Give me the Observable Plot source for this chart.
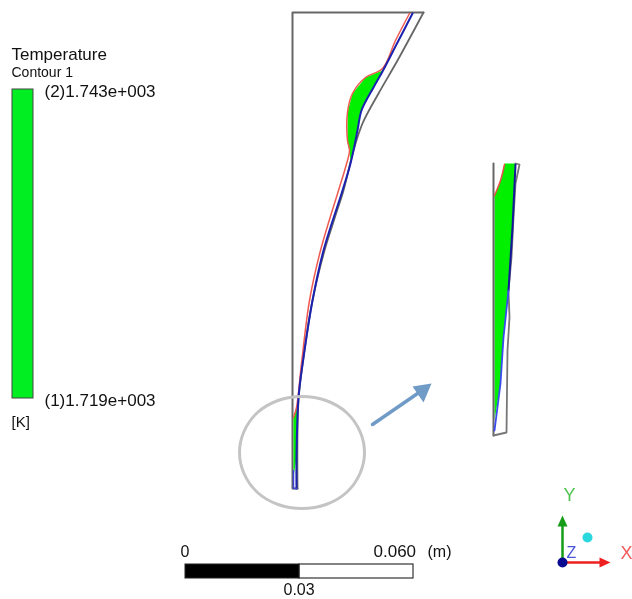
<!DOCTYPE html>
<html>
<head>
<meta charset="utf-8">
<script src="https://cdn.jsdelivr.net/npm/d3@7"></script>
<script src="https://cdn.jsdelivr.net/npm/@observablehq/plot@0.6"></script>
<style>
html,body{margin:0;padding:0;background:#fff;overflow:hidden}
svg{display:block;filter:blur(0.5px)}
</style>
</head>
<body>
<div id="chart"></div>
<script>
const outerFrame = [[297,488],[292,488],[292,12],[423,12]];
const outerCurve = [[423,12],[397,60],[378,93],[362,123],[353,150],[343,190],[335,215],[324,250],[312,300],[303,357],[298,400],[297,488]];
const blueUpper = [[412,13],[397,42],[382,71],[373,87],[361,110],[357,130],[350,163],[342,190],[323,250],[312,300],[303,357],[298,397],[296,457],[296,488]];
const blueCap = [[296,488],[293,488],[293,470]];
const redUpper = [[409,13],[395,40],[382,68],[365,77],[352,93],[347,112],[347,140],[349,150],[345,167],[338,190],[320,250],[309,300],[301,363],[296,407],[293,417]];
const greenBulge = [[382,70],[365,77],[352,93],[347,112],[347,140],[349,152],[350,160],[357,130],[361,110],[373,87]];
const greenStrip = [[298,403],[293,417],[293,477],[296,457],[297,420]];
const outerLeftInset = [[493,163],[493,435]];
const outerInset = [[493,435],[506,432],[507,350],[509,317],[508,290],[511,257],[513,217],[515,183],[519,164],[515,163]];
const blueInsetTop = [[515,164],[512,227],[508,290]];
const blueInsetLow = [[508,290],[503,337],[500,383],[494,430]];
const redInset = [[504,164],[500,180],[494,195]];
const greenInset = [[504,163],[500,180],[494,195],[494,420],[500,383],[503,337],[508,290],[512,227],[515,163]];
const circlePts = [[301.5,396],[325.5,400],[346,412],[359.5,431],[364,452],[359.5,473],[346,492],[325.5,504],[301.5,508],[277.5,504],[257,492],[243.5,473],[239,452],[243.5,431],[257,412],[277.5,400]];
const arrowShaft = [[372,424],[420,391]];
const arrowHead = [[431,383],[412,386],[423,402]];
const legendBar = [{x1:12,x2:33,y1:89,y2:398}];
const scaleBlack = [{x1:185,x2:299,y1:564,y2:578}];
const scaleWhite = [{x1:299,x2:413,y1:564,y2:578}];
const yAxisTriad = [[562,560],[562,524]];
const xAxisTriad = [[562,562],[600,562]];
const yHead = [[562,515],[557,526],[567,526]];
const xHead = [[610,562],[599,557],[599,567]];
const originDot = [[562,562]];
const cyanDot = [[587,537]];
const labels = [
  {x:11,y:54,t:"Temperature",s:17,c:"#111"},
  {x:11,y:72,t:"Contour 1",s:14,c:"#111"},
  {x:44,y:91,t:"(2)1.743e+003",s:17,c:"#111"},
  {x:44,y:400,t:"(1)1.719e+003",s:17,c:"#111"},
  {x:11,y:422,t:"[K]",s:15,c:"#111"},
  {x:180,y:551,t:"0",s:16,c:"#111"},
  {x:373,y:551,t:"0.060",s:17,c:"#111"},
  {x:427,y:551,t:"(m)",s:16,c:"#111"},
  {x:283,y:589,t:"0.03",s:16,c:"#111"},
  {x:563,y:495,t:"Y",s:18,c:"#4fc24f"},
  {x:620,y:553,t:"X",s:18,c:"#f25a5a"},
  {x:566,y:552,t:"Z",s:16,c:"#4a55d8"}
];

const xy = () => ({x:d=>d[0], y:d=>d[1]});
const poly = (a,fill) => Plot.line(a,{...xy(),fill,stroke:"none"});
const path = (a,stroke,strokeWidth,extra={}) => Plot.line(a,{...xy(),stroke,strokeWidth,...extra});

const chart = Plot.plot({
  width:632,height:599,
  marginTop:0,marginRight:0,marginBottom:0,marginLeft:0,
  style:{background:"#fff",fontFamily:"'Liberation Sans',Arial,sans-serif"},
  x:{domain:[0,632],range:[0,632],axis:null},
  y:{domain:[0,599],range:[0,599],axis:null},
  marks:[
    // legend
    Plot.rect(legendBar,{x1:"x1",x2:"x2",y1:"y1",y2:"y2",fill:"#00ee22",stroke:"#444",strokeWidth:1}),
    // main geometry
    path(outerFrame,"#666",2),
    path(outerCurve,"#666",1.8,{curve:"catmull-rom"}),
    poly(greenBulge,"#00f000"),
    poly(greenStrip,"#00f000"),
    path(redUpper,"#ef5a50",1.5,{curve:"catmull-rom"}),
    path(blueUpper,"#1c22b0",2,{curve:"catmull-rom"}),
    path(blueCap,"#3a44d8",1.5),
    // inset
    poly(greenInset,"#00f000"),
    path(outerLeftInset,"#666",2),
    path(outerInset,"#777",1.8),
    path(blueInsetTop,"#16189a",2),
    path(blueInsetLow,"#3a4cf0",1.8),
    path(redInset,"#e8504a",1.5,{curve:"catmull-rom"}),
    // circle and arrow
    path(circlePts,"#c4c4c4",3,{curve:"catmull-rom-closed"}),
    path(arrowShaft,"#6f9bc6",3.5),
    poly(arrowHead,"#6f9bc6"),
    // scale bar
    Plot.rect(scaleWhite,{x1:"x1",x2:"x2",y1:"y1",y2:"y2",fill:"#fff",stroke:"#333",strokeWidth:1.2}),
    Plot.rect(scaleBlack,{x1:"x1",x2:"x2",y1:"y1",y2:"y2",fill:"#000",stroke:"#222",strokeWidth:1}),
    // triad
    path(yAxisTriad,"#169c16",2.5),
    poly(yHead,"#169c16"),
    path(xAxisTriad,"#ee2020",2.5),
    poly(xHead,"#ee2020"),
    Plot.dot(originDot,{...xy(),r:5,fill:"#0a0a90"}),
    Plot.dot(cyanDot,{...xy(),r:5,fill:"#28d8dc"}),
    // text
    Plot.text(labels,{x:"x",y:"y",text:"t",fontSize:"s",fill:"c",textAnchor:"start",lineAnchor:"middle"})
  ]
});
document.getElementById("chart").append(chart);
</script>
</body>
</html>
